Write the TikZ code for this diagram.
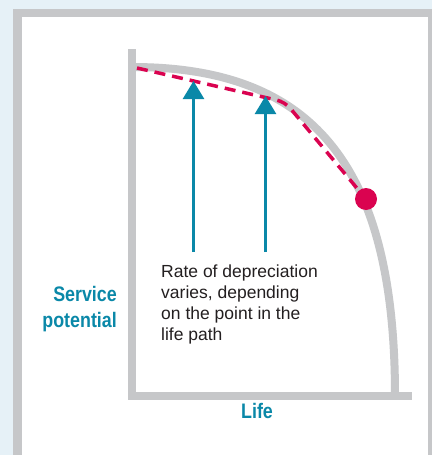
\documentclass[tikz,border=0pt]{standalone}
\usepackage{fontspec}
\setmainfont{Liberation Sans}
\newfontfamily\labelfont[FakeStretch=0.85]{Liberation Sans}
\usepackage{tikz}
\usetikzlibrary{positioning, arrows.meta}
\definecolor{mteal}{HTML}{0A88A8}
\definecolor{mred}{HTML}{DA0350}
\definecolor{mgray}{HTML}{C6C7C9}
\definecolor{mbg}{HTML}{E6F1F7}
\definecolor{mtext}{HTML}{231F20}
\tikzset{
  axis/.style={line width=8pt, mgray},
  life curve/.style={line width=8pt, mgray},
  rate path/.style={line width=3.5pt, mred, dash pattern=on 11pt off 7pt, rounded corners=8pt},
  rise arrow/.style={line width=2.5pt, mteal, -{Triangle[length=18pt,width=21pt]}},
  axis label/.style={font=\labelfont\bfseries\fontsize{21}{26}\selectfont, text=mteal, inner sep=0},
  note/.style={font=\fontsize{17.5}{21}\selectfont, text=mtext, align=left, inner sep=0}
}

\begin{document}
\begin{tikzpicture}[x=1pt, y=-1pt, node distance=10pt]

  % Panel
  \useasboundingbox (0,0) rectangle (432,455);
  \fill[mbg] (0,0) rectangle (432,455);
  \fill[mgray] (13,9) rectangle (432,455);
  \fill[white] (22,17) rectangle (428,455);

  % Axes
  \coordinate (ytop) at (132,49);
  \coordinate (o) at (132,396);
  \coordinate (xend) at (412,396);
  \draw[axis] (ytop) |- (xend);

  % Life curve of service potential
  \coordinate (c0) at (132,67);
  \coordinate (c1) at (395,396);
  \draw[life curve] (c0) .. controls (315,67) and (395,168) .. (c1);

  % Point on the curve and the rate of depreciation
  \coordinate (pt) at (366,199);
  \coordinate (r0) at (137,68);
  \coordinate (r1) at (285,102);
  \draw[rate path] (r0) -- (r1) -- (pt);
  \node[circle, fill=mred, minimum size=22pt, inner sep=0] (dot) at (pt) {};

  % Arrows up to the dashed line
  \coordinate (b1) at (193.5,252);
  \coordinate (t1) at (193.5,81);
  \coordinate (b2) at (265.5,252);
  \coordinate (t2) at (265.5,96);
  \draw[rise arrow] (b1) -- (t1);
  \draw[rise arrow] (b2) -- (t2);

  % Labels
  \node[note, anchor=north west] (txt) at (161,265)
    {Rate of depreciation\\varies, depending\\on the point in the\\life path};
  \coordinate (ymid) at (128,309);
  \node[axis label, align=right, left=11pt of ymid] (yl) {Service\\potential};
  \coordinate (xmid) at (257,400);
  \node[axis label, below=3pt of xmid] (xl) {Life};

\end{tikzpicture}
\end{document}
